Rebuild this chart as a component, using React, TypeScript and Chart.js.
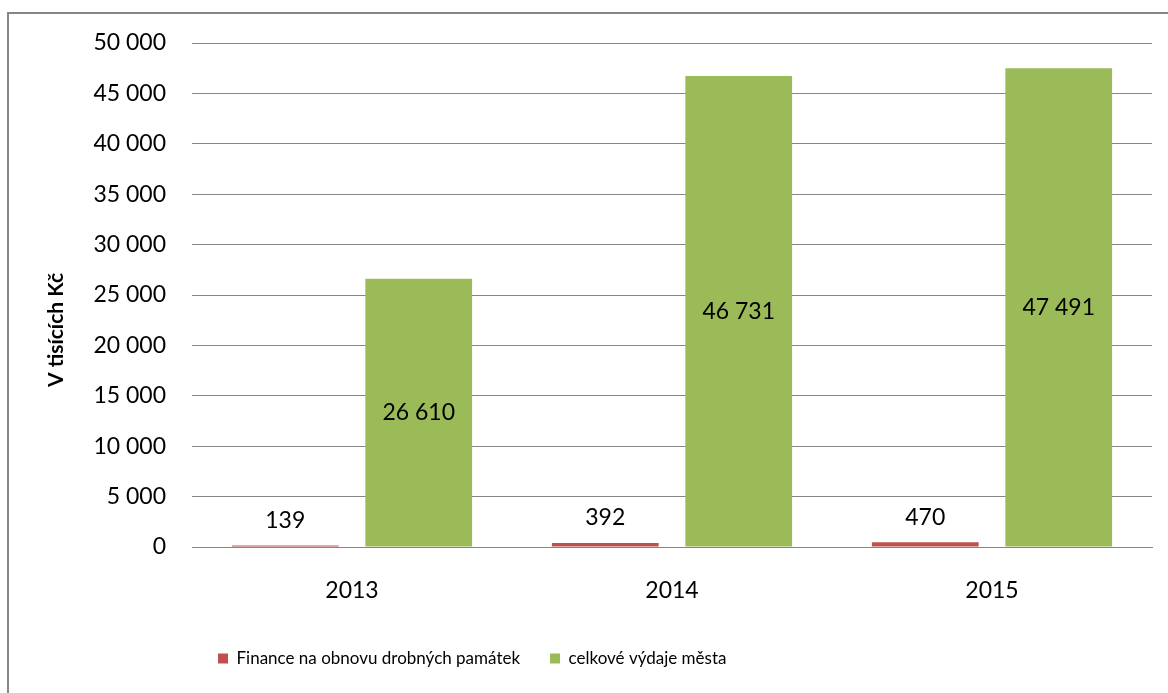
import React, { useEffect, useRef } from "react";
import { Chart, registerables } from "chart.js";

Chart.register(...registerables);

const categories = ["2013", "2014", "2015"];
const seriesNames = ["Finance na obnovu drobných památek", "celkové výdaje města"];
const financeValues = [139, 392, 470];
const totalValues = [26610, 46731, 47491];
const yTicks = [0, 5000, 10000, 15000, 20000, 25000, 30000, 35000, 40000, 45000, 50000];
const yTitle = "V tisících Kč";

const fmt = (v: number) => String(Math.round(v)).replace(/\B(?=(\d{3})+(?!\d))/g, " ");
const FONT = "Lato, 'Noto Sans', sans-serif";

export default function App() {
  const ref = useRef<HTMLCanvasElement>(null);
  useEffect(() => {
    if (!ref.current) return;
    const framePlugin = {
      id: "frame",
      beforeDraw(chart: any) {
        if (chart.legend) chart.legend.left = 188;
        const ctx = chart.ctx;
        ctx.save();
        ctx.fillStyle = "#ffffff";
        ctx.fillRect(0, 0, chart.width, chart.height);
        ctx.strokeStyle = "#868686";
        ctx.lineWidth = 2;
        ctx.beginPath();
        ctx.moveTo(8, chart.height + 5);
        ctx.lineTo(8, 13);
        ctx.lineTo(chart.width + 5, 13);
        ctx.stroke();
        ctx.restore();
      },
      afterDraw(chart: any) {
        const ctx = chart.ctx;
        ctx.save();
        ctx.translate(56, 330);
        ctx.rotate(-Math.PI / 2);
        ctx.font = `bold 21px ${FONT}`;
        ctx.fillStyle = "#000";
        ctx.textAlign = "center";
        ctx.textBaseline = "middle";
        ctx.fillText(yTitle, 0, 0);
        ctx.restore();
      },
    };
    const labelPlugin = {
      id: "valueLabels",
      afterDatasetsDraw(chart: any) {
        const ctx = chart.ctx;
        ctx.save();
        ctx.font = `23px ${FONT}`;
        ctx.fillStyle = "#000";
        ctx.textAlign = "center";
        ctx.textBaseline = "middle";
        chart.data.datasets.forEach((ds: any, di: number) => {
          const meta = chart.getDatasetMeta(di);
          meta.data.forEach((bar: any, i: number) => {
            const v = ds.data[i];
            const y = di === 0 ? bar.y - 25 : (bar.y + bar.base) / 2;
            ctx.fillText(fmt(v), bar.x, y);
          });
        });
        ctx.restore();
      },
    };
    const chart = new Chart(ref.current, {
      type: "bar",
      data: {
        labels: categories,
        datasets: [
          { label: seriesNames[0], data: financeValues, backgroundColor: "#C0504D", categoryPercentage: 0.834, barPercentage: 0.8 },
          { label: seriesNames[1], data: totalValues, backgroundColor: "#9BBB59", categoryPercentage: 0.834, barPercentage: 0.8 },
        ],
      },
      options: {
        animation: false,
        responsive: false,
        layout: { padding: { left: 0, right: 16, top: 43, bottom: 16 } },
        plugins: {
          tooltip: { enabled: false },
          legend: {
            position: "bottom",
            align: "start",
            labels: {
              boxWidth: 10,
              boxHeight: 10,
              padding: 30,
              color: "#000",
              font: { family: FONT, size: 17 },
            },
          },
        },
        scales: {
          x: {
            grid: { display: false, drawTicks: false },
            border: { display: true, color: "#868686", width: 1 },
            ticks: { color: "#000", font: { family: FONT, size: 23 }, padding: 30 },
            afterFit(scale: any) { scale.height = 73; },
          },
          y: {
            min: 0,
            max: 50000,
            afterBuildTicks(scale: any) { scale.ticks = yTicks.map((v) => ({ value: v })); },
            grid: { color: "#868686", lineWidth: 1, drawTicks: false },
            border: { display: false },
            ticks: { color: "#000", font: { family: FONT, size: 23 }, padding: 26, callback: (v: any) => fmt(Number(v)) },
            afterFit(scale: any) { scale.width = 192; },
          },
        },
      },
      plugins: [framePlugin, labelPlugin],
    });
    return () => chart.destroy();
  }, []);
  return (
    <div style={{ position: "absolute", left: 0, top: 0, width: 1168, height: 693 }}>
      <canvas ref={ref} width={1168} height={693} style={{ display: "block" }} />
    </div>
  );
}
